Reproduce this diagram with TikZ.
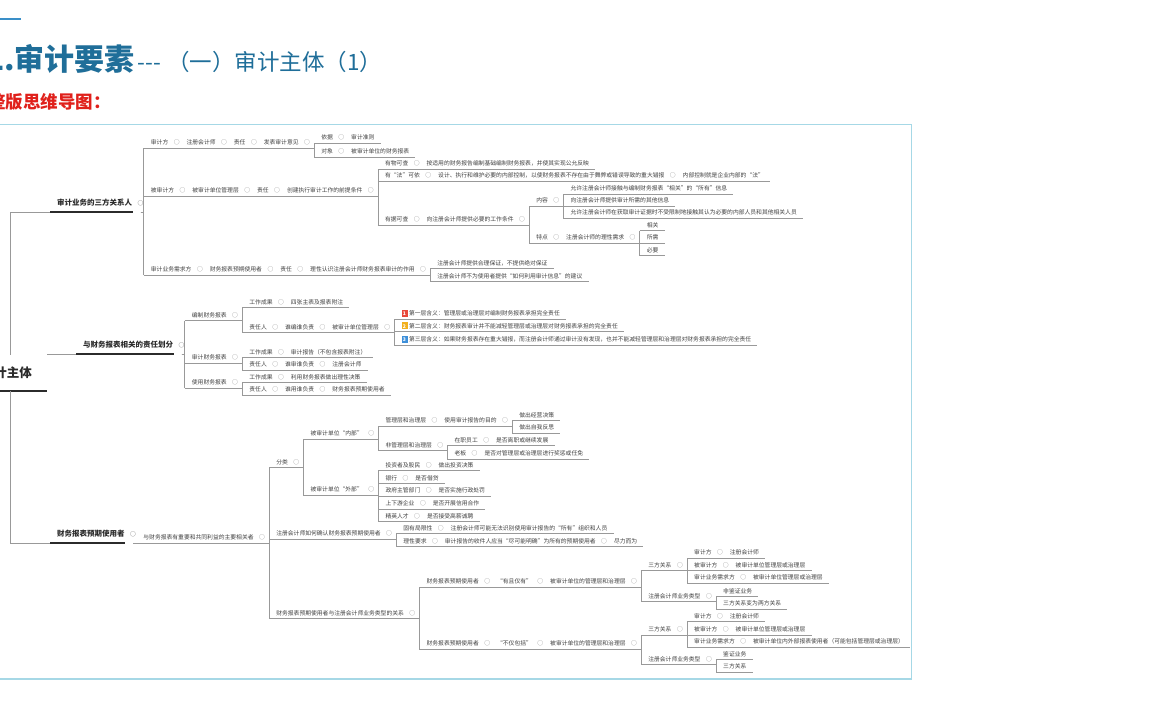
\documentclass[tikz,border=0pt]{standalone}
\usepackage{fontspec}
\setmainfont{Noto Sans CJK SC}
\usetikzlibrary{calc}
\definecolor{tc}{HTML}{404040}
\definecolor{lc}{HTML}{999999}
\definecolor{cg}{HTML}{7A7A7A}
\definecolor{dk}{HTML}{2B2B2B}
\definecolor{ttl}{HTML}{1F6E99}
\definecolor{rd}{HTML}{E0201B}
\definecolor{frm}{HTML}{A6D8E6}
\definecolor{blu}{HTML}{3A8FC8}
\definecolor{ia}{HTML}{E8483A}
\definecolor{ib}{HTML}{F2B01E}
\definecolor{ic}{HTML}{3D8FD9}
\newcommand\crc{\kern5.5pt{\fontsize{5.8}{7}\selectfont\color{cg}○}\kern7pt}
\newcommand\crz{\kern5.5pt{\fontsize{5.8}{7}\selectfont\color{cg}○}\kern-5pt}
\newcommand\icn[2]{{\setlength\fboxsep{0.5pt}\colorbox{#1}{\rule[-0.8pt]{0pt}{6pt}\makebox[5pt]{\color{white}\fontsize{5}{5}\selectfont\bfseries #2}}}\kern1.5pt}
\newcommand\kid[4]{%
  \node[t] (#1) at ($(#2.south east)+(3,#3)$) {#4};
  \draw[ln] (#1.south west) -- (#1.south east);
  \draw[ln] (#2.south east) -| (#1.south west);}
\begin{document}
\begin{tikzpicture}[x=1pt,y=-1pt,
  t/.style={anchor=south west, inner xsep=0pt, inner ysep=2.6pt, text height=5.1pt, text depth=0.7pt,
    font=\fontsize{5.8}{7}\selectfont, text=tc,
    execute at begin node={\kern7pt}, execute at end node={\kern6pt}},
  ln/.style={draw=lc, line width=0.6pt},
  lone/.style={anchor=south west, inner xsep=0pt, inner ysep=5.7pt, text height=6.6pt, text depth=0.9pt,
    font=\fontsize{7.5}{9}\selectfont\bfseries, text=dk,
    execute at begin node={\kern7pt}, execute at end node={\kern2pt}},
  thk/.style={draw=dk, line width=1.8pt}]
\useasboundingbox (0,0) rectangle (1152,720);
\fill[white] (0,0) rectangle (1152,720);
% title area
\draw[blu, line width=2.5pt] (0,19) -- (21,19);
\node[anchor=base west, inner sep=0pt, text=ttl] (title) at (-14,70)
  {\fontsize{30}{30}\selectfont\bfseries 1.审计要素{}\fontsize{22.5}{22.5}\selectfont\mdseries\kern3pt -{}-{}-\kern6pt（一）审计主体（1）};
\node[anchor=west, inner sep=0pt, text=rd, font=\fontsize{17.5}{18}\selectfont\bfseries] (sub) at (-12,102) {整版思维导图：};
\draw[frm, line width=1.6pt] (-5,124.5) rectangle (911.5,679);
% root
\node[anchor=south east, inner sep=0pt, minimum height=36pt, font=\fontsize{12.5}{13}\selectfont\bfseries, text=dk] (root) at (47,391) {审计主体{}\kern15pt};
\draw[dk, line width=2.2pt] (root.south west) -- (root.south east);
% level 1
\node[lone] (la) at (50,212) {审计业务的三方关系人{}\crz};
\draw[thk] (la.south west) -- ($(la.south east)+(-8,0)$);
\draw[ln] (root.north -| 10,0) |- (la.south west);
\node[lone] (lb) at (76,354) {与财务报表相关的责任划分{}\crz};
\draw[thk] (lb.south west) -- ($(lb.south east)+(-8,0)$);
\draw[ln] (root.north east) |- (lb.south west);
\node[lone] (lc) at (50,543) {财务报表预期使用者{}\crz};
\draw[thk] (lc.south west) -- ($(lc.south east)+(-8,0)$);
\draw[ln] (root.south -| 10,0) |- (lc.south west);
% branch 1
\kid{a1}{la}{-64}{审计方\crc{}注册会计师\crc{}责任\crc{}发表审计意见\crz}
\kid{a2}{la}{-16}{被审计方\crc{}被审计单位管理层\crc{}责任\crc{}创建执行审计工作的前提条件\crz}
\kid{a3}{la}{63}{审计业务需求方\crc{}财务报表预期使用者\crc{}责任\crc{}理性认识注册会计师财务报表审计的作用\crz}
\kid{a11}{a1}{-5}{依据\crc{}审计准则}
\kid{a12}{a1}{9}{对象\crc{}被审计单位的财务报表}
\kid{a21}{a2}{-27}{有物可查\crc{}按适用的财务报告编制基础编制财务报表，并使其实现公允反映}
\kid{a22}{a2}{-15}{有“法”可依\crc{}设计、执行和维护必要的内部控制，以使财务报表不存在由于舞弊或错误导致的重大错报\crc{}内部控制就是企业内部的“法”}
\kid{a23}{a2}{29}{有据可查\crc{}向注册会计师提供必要的工作条件\crz}
\kid{a231}{a23}{-19}{内容\crz}
\kid{a232}{a23}{18}{特点\crc{}注册会计师的理性需求\crz}
\kid{a2311}{a231}{-12}{允许注册会计师接触与编制财务报表“相关”的“所有”信息}
\kid{a2312}{a231}{0}{向注册会计师提供审计所需的其他信息}
\kid{a2313}{a231}{12}{允许注册会计师在获取审计证据时不受限制地接触其认为必要的内部人员和其他相关人员}
\kid{a2321}{a232}{-12.5}{相关}
\kid{a2322}{a232}{0}{所需}
\kid{a2323}{a232}{12.5}{必要}
\kid{a31}{a3}{-6.5}{注册会计师提供合理保证，不提供绝对保证}
\kid{a32}{a3}{6.5}{注册会计师不为使用者提供“如何利用审计信息”的建议}
% branch 2
\kid{b1}{lb}{-33.5}{编制财务报表\crz}
\kid{b2}{lb}{9}{审计财务报表\crz}
\kid{b3}{lb}{34}{使用财务报表\crz}
\kid{b11}{b1}{-13}{工作成果\crc{}四张主表及报表附注}
\kid{b12}{b1}{12}{责任人\crc{}谁编谁负责\crc{}被审计单位管理层\crz}
\kid{b21}{b2}{-5.5}{工作成果\crc{}审计报告（不包含报表附注）}
\kid{b22}{b2}{7}{责任人\crc{}谁审谁负责\crc{}注册会计师}
\kid{b31}{b3}{-5.5}{工作成果\crc{}利用财务报表做出理性决策}
\kid{b32}{b3}{7}{责任人\crc{}谁用谁负责\crc{}财务报表预期使用者}
\kid{b121}{b12}{-13.5}{\icn{ia}{1}第一层含义：管理层或治理层对编制财务报表承担完全责任}
\kid{b122}{b12}{-1}{\icn{ib}{2}第二层含义：财务报表审计并不能减轻管理层或治理层对财务报表承担的完全责任}
\kid{b123}{b12}{12.5}{\icn{ic}{3}第三层含义：如果财务报表存在重大错报，而注册会计师通过审计没有发现，也并不能减轻管理层和治理层对财务报表承担的完全责任}
% branch 3
\kid{c0}{lc}{0}{与财务报表有重要和共同利益的主要相关者\crz}
\kid{c1}{c0}{-75.5}{分类\crz}
\kid{c2}{c0}{-4}{注册会计师如何确认财务报表预期使用者\crz}
\kid{c3}{c0}{75.5}{财务报表预期使用者与注册会计师业务类型的关系\crz}
\kid{c11}{c1}{-28.5}{被审计单位“内部”\crz}
\kid{c12}{c1}{27.5}{被审计单位“外部”\crz}
\kid{c111}{c11}{-13}{管理层和治理层\crc{}使用审计报告的目的\crz}
\kid{c112}{c11}{11.5}{非管理层和治理层\crz}
\kid{c1111}{c111}{-5.5}{做出经营决策}
\kid{c1112}{c111}{7}{做出自我反思}
\kid{c1121}{c112}{-5}{在职员工\crc{}是否离职或继续发展}
\kid{c1122}{c112}{8.5}{老板\crc{}是否对管理层或治理层进行奖惩或任免}
\kid{c121}{c12}{-24.5}{投资者及股民\crc{}做出投资决策}
\kid{c122}{c12}{-11.5}{银行\crc{}是否借贷}
\kid{c123}{c12}{1}{政府主管部门\crc{}是否实施行政处罚}
\kid{c124}{c12}{14}{上下游企业\crc{}是否开展信用合作}
\kid{c125}{c12}{26.5}{精英人才\crc{}是否接受高薪诚聘}
\kid{c21}{c2}{-5.5}{固有局限性\crc{}注册会计师可能无法识别使用审计报告的“所有”组织和人员}
\kid{c22}{c2}{7.5}{理性要求\crc{}审计报告的收件人应当“尽可能明确”为所有的预期使用者\crc{}尽力而为}
\kid{c31}{c3}{-31.5}{财务报表预期使用者\crc{}“有且仅有”\crc{}被审计单位的管理层和治理层\crz}
\kid{c32}{c3}{30.5}{财务报表预期使用者\crc{}“不仅包括”\crc{}被审计单位的管理层和治理层\crz}
\kid{c311}{c31}{-16.5}{三方关系\crz}
\kid{c312}{c31}{14.5}{注册会计师业务类型\crz}
\kid{c3111}{c311}{-12.5}{审计方\crc{}注册会计师}
\kid{c3112}{c311}{0}{被审计方\crc{}被审计单位管理层或治理层}
\kid{c3113}{c311}{12.5}{审计业务需求方\crc{}被审计单位管理层或治理层}
\kid{c3121}{c312}{-5}{非鉴证业务}
\kid{c3122}{c312}{7.5}{三方关系变为两方关系}
\kid{c321}{c32}{-14}{三方关系\crz}
\kid{c322}{c32}{15.5}{注册会计师业务类型\crz}
\kid{c3211}{c321}{-13.5}{审计方\crc{}注册会计师}
\kid{c3212}{c321}{0}{被审计方\crc{}被审计单位管理层或治理层}
\kid{c3213}{c321}{12}{审计业务需求方\crc{}被审计单位内外部报表使用者（可能包括管理层或治理层）}
\kid{c3221}{c322}{-5}{鉴证业务}
\kid{c3222}{c322}{7.5}{三方关系}
\end{tikzpicture}
\end{document}
